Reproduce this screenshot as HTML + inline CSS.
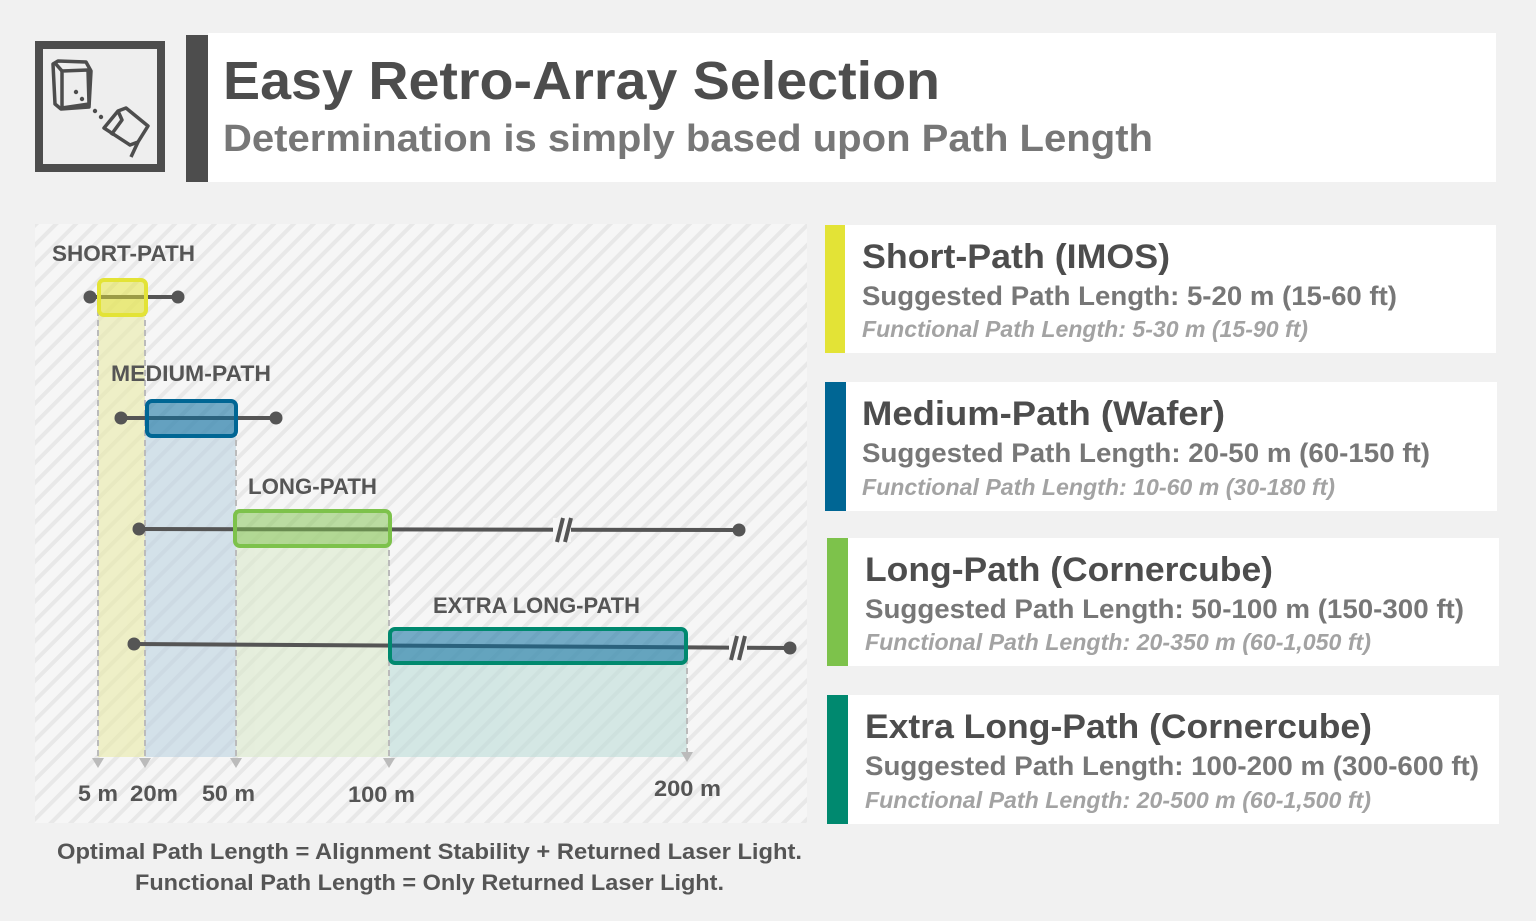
<!DOCTYPE html>
<html><head><meta charset="utf-8"><style>
html,body{margin:0;padding:0;background:#f1f1f1;}
svg{display:block;font-family:"Liberation Sans",sans-serif;}
</style></head><body>
<svg width="1536" height="921" viewBox="0 0 1536 921" xmlns="http://www.w3.org/2000/svg">
<defs>
<pattern id="st" width="14" height="14" patternUnits="userSpaceOnUse" patternTransform="rotate(45)">
<rect width="14" height="14" fill="#f6f6f6"/><rect width="4" height="14" fill="#e8e8e8"/>
</pattern>
</defs>
<rect width="1536" height="921" fill="#f1f1f1"/>
<!-- icon -->
<rect x="39" y="45" width="122" height="123" fill="#eeeeee" stroke="#4d4d4d" stroke-width="8"/>
<g fill="none" stroke="#4d4d4d" stroke-width="3.5" stroke-linejoin="round">
<path d="M53 64 L55 104 L61 109 L89 107 L91 71 L86 62 L58 61 Z"/>
<path d="M62 71 L88 70 L89 104 L62 108 Z"/>
<path d="M55 63 L62 71"/>
<path d="M104 128 L118 111 L126 108 L148 126 L138 142 L130 145 Z"/>
<path d="M118 111 L122 120 L111 135"/>
<path d="M138 142 L131 157"/>
</g>
<g fill="#4d4d4d"><circle cx="76" cy="92" r="2.2"/><circle cx="82" cy="99" r="2.2"/><circle cx="95" cy="111" r="2.2"/><circle cx="101" cy="117" r="2.2"/></g>
<!-- header -->
<rect x="208" y="33" width="1288" height="149" fill="#ffffff"/>
<rect x="186" y="35" width="22" height="147" fill="#4d4d4d"/>
<text x="223" y="99" font-size="54" font-weight="bold" fill="#4d4d4d" textLength="717" lengthAdjust="spacingAndGlyphs">Easy Retro-Array Selection</text>
<text x="223" y="151" font-size="38" font-weight="bold" fill="#777777" textLength="930" lengthAdjust="spacingAndGlyphs">Determination is simply based upon Path Length</text>
<!-- chart panel -->
<rect x="35" y="224" width="772" height="599" fill="url(#st)"/>
<g opacity="0.55">
<rect x="98" y="297" width="47" height="460" fill="#e8eaa0"/>
<rect x="145" y="418" width="91" height="339" fill="#b7d0e0"/>
<rect x="236" y="528" width="153" height="229" fill="#d8e9c8"/>
<rect x="389" y="645" width="298" height="112" fill="#b8dbd6"/>
</g>
<g stroke="#bbbbbb" stroke-width="2" stroke-dasharray="6 4">
<line x1="98" y1="300" x2="98" y2="760"/><line x1="145" y1="300" x2="145" y2="760"/>
<line x1="236" y1="420" x2="236" y2="760"/><line x1="389" y1="530" x2="389" y2="760"/>
<line x1="687" y1="648" x2="687" y2="752"/>
</g>
<g fill="#bbbbbb">
<path d="M92 758 L104 758 L98 768Z"/><path d="M139 758 L151 758 L145 768Z"/>
<path d="M230 758 L242 758 L236 768Z"/><path d="M383 758 L395 758 L389 768Z"/>
<path d="M681 752 L693 752 L687 762Z"/>
</g>
<!-- lines -->
<g stroke="#555" stroke-width="4" fill="#555">
<line x1="90" y1="297" x2="178" y2="297"/><circle cx="90" cy="297" r="6.5" stroke="none"/><circle cx="178" cy="297" r="6.5" stroke="none"/>
<line x1="121" y1="418" x2="276" y2="418"/><circle cx="121" cy="418" r="6.5" stroke="none"/><circle cx="276" cy="418" r="6.5" stroke="none"/>
<line x1="139" y1="529" x2="739" y2="530"/><circle cx="139" cy="529" r="6.5" stroke="none"/><circle cx="739" cy="530" r="6.5" stroke="none"/>
<line x1="134" y1="644" x2="790" y2="648"/><circle cx="134" cy="644" r="6.5" stroke="none"/><circle cx="790" cy="648" r="6.5" stroke="none"/>
</g>
<g stroke="#555" stroke-width="4">
<rect x="553" y="518" width="18" height="24" fill="#f6f6f6" stroke="none"/>
<line x1="557" y1="542" x2="563" y2="518"/><line x1="565" y1="542" x2="571" y2="518"/>
<rect x="729" y="636" width="18" height="24" fill="#f6f6f6" stroke="none"/>
<line x1="731" y1="660" x2="737" y2="636"/><line x1="739" y1="660" x2="745" y2="636"/>
</g>
<rect x="99" y="280" width="47" height="35" rx="5" fill="#e3e336" fill-opacity="0.5" stroke="#e3e336" stroke-width="4"/>
<rect x="147" y="401" width="89" height="35" rx="5" fill="#0a6e9e" fill-opacity="0.55" stroke="#006694" stroke-width="4"/>
<rect x="235" y="511" width="155" height="35" rx="5" fill="#7dc24b" fill-opacity="0.5" stroke="#7dc24b" stroke-width="4"/>
<rect x="390" y="629" width="296" height="34" rx="5" fill="#0a6e9e" fill-opacity="0.55" stroke="#00896f" stroke-width="4"/>
<g font-weight="bold" fill="#555" font-size="22">
<text x="52" y="261" textLength="143" lengthAdjust="spacingAndGlyphs">SHORT-PATH</text>
<text x="111" y="381" textLength="160" lengthAdjust="spacingAndGlyphs">MEDIUM-PATH</text>
<text x="248" y="494" textLength="129" lengthAdjust="spacingAndGlyphs">LONG-PATH</text>
<text x="433" y="613" textLength="207" lengthAdjust="spacingAndGlyphs">EXTRA LONG-PATH</text>
<text x="78" y="801" textLength="40" lengthAdjust="spacingAndGlyphs">5 m</text>
<text x="130" y="801" textLength="48" lengthAdjust="spacingAndGlyphs">20m</text>
<text x="202" y="801" textLength="53" lengthAdjust="spacingAndGlyphs">50 m</text>
<text x="348" y="802" textLength="67" lengthAdjust="spacingAndGlyphs">100 m</text>
<text x="654" y="796" textLength="67" lengthAdjust="spacingAndGlyphs">200 m</text>
<text x="57" y="859" textLength="745" lengthAdjust="spacingAndGlyphs">Optimal Path Length = Alignment Stability + Returned Laser Light.</text>
<text x="135" y="890" textLength="589" lengthAdjust="spacingAndGlyphs">Functional Path Length = Only Returned Laser Light.</text>
</g>
<!-- cards -->
<g>
<rect x="825" y="225" width="671" height="128" fill="#fff"/><rect x="825" y="225" width="20" height="128" fill="#e3e336"/>
<rect x="825" y="382" width="672" height="129" fill="#fff"/><rect x="825" y="382" width="21" height="129" fill="#006694"/>
<rect x="827" y="538" width="672" height="128" fill="#fff"/><rect x="827" y="538" width="21" height="128" fill="#7dc24b"/>
<rect x="827" y="695" width="672" height="129" fill="#fff"/><rect x="827" y="695" width="21" height="129" fill="#00896f"/>
</g>
<g font-weight="bold">
<g font-size="34" fill="#4d4d4d">
<text x="862" y="268" textLength="308" lengthAdjust="spacingAndGlyphs">Short-Path (IMOS)</text>
<text x="862" y="425" textLength="363" lengthAdjust="spacingAndGlyphs">Medium-Path (Wafer)</text>
<text x="865" y="581" textLength="408" lengthAdjust="spacingAndGlyphs">Long-Path (Cornercube)</text>
<text x="865" y="738" textLength="507" lengthAdjust="spacingAndGlyphs">Extra Long-Path (Cornercube)</text>
</g>
<g font-size="27" fill="#777">
<text x="862" y="305" textLength="535" lengthAdjust="spacingAndGlyphs">Suggested Path Length: 5-20 m (15-60 ft)</text>
<text x="862" y="462" textLength="568" lengthAdjust="spacingAndGlyphs">Suggested Path Length: 20-50 m (60-150 ft)</text>
<text x="865" y="618" textLength="599" lengthAdjust="spacingAndGlyphs">Suggested Path Length: 50-100 m (150-300 ft)</text>
<text x="865" y="775" textLength="614" lengthAdjust="spacingAndGlyphs">Suggested Path Length: 100-200 m (300-600 ft)</text>
</g>
<g font-size="23" fill="#a3a3a3" font-style="italic">
<text x="862" y="337" textLength="446" lengthAdjust="spacingAndGlyphs">Functional Path Length: 5-30 m (15-90 ft)</text>
<text x="862" y="495" textLength="473" lengthAdjust="spacingAndGlyphs">Functional Path Length: 10-60 m (30-180 ft)</text>
<text x="865" y="650" textLength="506" lengthAdjust="spacingAndGlyphs">Functional Path Length: 20-350 m (60-1,050 ft)</text>
<text x="865" y="808" textLength="506" lengthAdjust="spacingAndGlyphs">Functional Path Length: 20-500 m (60-1,500 ft)</text>
</g>
</g>
</svg>
</body></html>
